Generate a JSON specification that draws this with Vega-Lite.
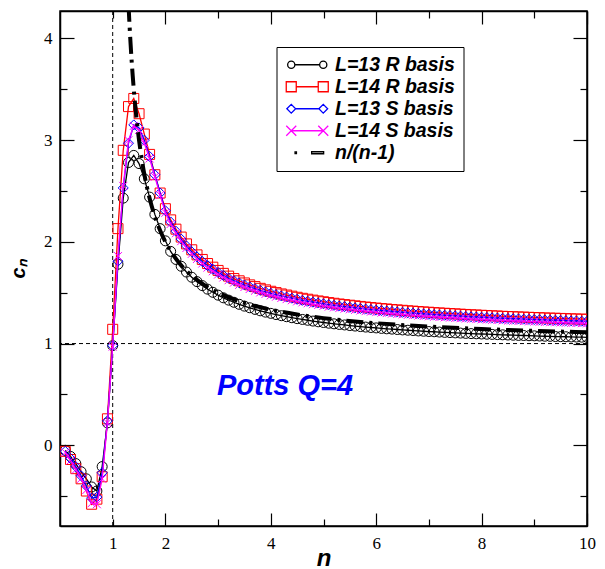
{
  "$schema": "https://vega.github.io/schema/vega-lite/v6.json",
  "width": 527,
  "height": 515,
  "autosize": {"type": "none"},
  "padding": {"left": 60, "top": 11, "right": 18, "bottom": 43},
  "config": {
    "view": {"stroke": "black", "strokeWidth": 1.5},
    "axis": {
      "grid": false,
      "domainColor": "black",
      "domainWidth": 1.5,
      "tickColor": "black",
      "tickWidth": 1.2,
      "labelFont": "Liberation Serif",
      "labelFontSize": 17,
      "labelColor": "black",
      "labelOverlap": false,
      "labelFlush": false,
      "titleFont": "Liberation Sans",
      "titleFontWeight": "bold",
      "titleFontStyle": "italic",
      "titleFontSize": 22,
      "titleColor": "black"
    }
  },
  "datasets": {
    "series": [
      {"n":0.1,"a":-0.05,"b":-0.06,"c":-0.06,"d":-0.07},
      {"n":0.2,"a":-0.11,"b":-0.14,"c":-0.13,"d":-0.15},
      {"n":0.3,"a":-0.18,"b":-0.23,"c":-0.21,"d":-0.24},
      {"n":0.4,"a":-0.26,"b":-0.33,"c":-0.30,"d":-0.33},
      {"n":0.5,"a":-0.33,"b":-0.45,"c":-0.40,"d":-0.44},
      {"n":0.6,"a":-0.41,"b":-0.58,"c":-0.52,"d":-0.57},
      {"n":0.7,"a":-0.45,"b":-0.53,"c":-0.51,"d":-0.58},
      {"n":0.8,"a":-0.21,"b":-0.31,"c":-0.27,"d":-0.33},
      {"n":0.9,"a":0.22,"b":0.26,"c":0.24,"d":0.22},
      {"n":1.0,"a":0.98,"b":1.14,"c":0.98,"d":0.97},
      {"n":1.1,"a":1.78,"b":2.13,"c":1.81,"d":1.86},
      {"n":1.2,"a":2.43,"b":2.90,"c":2.53,"d":2.55},
      {"n":1.3,"a":2.78,"b":3.33,"c":2.97,"d":3.00},
      {"n":1.4,"a":2.85,"b":3.41,"c":3.15,"d":3.14},
      {"n":1.5,"a":2.77,"b":3.26,"c":3.12,"d":3.10},
      {"n":1.6,"a":2.62,"b":3.06,"c":3.00,"d":2.97},
      {"n":1.7,"a":2.44,"b":2.86,"c":2.84,"d":2.82},
      {"n":1.8,"a":2.27,"b":2.66,"c":2.66,"d":2.64},
      {"n":1.9,"a":2.13,"b":2.48,"c":2.48,"d":2.46},
      {"n":2.0,"a":2.01,"b":2.326,"c":2.306,"d":2.286},
      {"n":2.1,"a":1.906,"b":2.216,"c":2.196,"d":2.176},
      {"n":2.2,"a":1.827,"b":2.125,"c":2.105,"d":2.085},
      {"n":2.3,"a":1.760,"b":2.047,"c":2.027,"d":2.007},
      {"n":2.4,"a":1.703,"b":1.980,"c":1.960,"d":1.940},
      {"n":2.5,"a":1.652,"b":1.922,"c":1.902,"d":1.882},
      {"n":2.6,"a":1.609,"b":1.872,"c":1.852,"d":1.832},
      {"n":2.7,"a":1.570,"b":1.827,"c":1.807,"d":1.787},
      {"n":2.8,"a":1.535,"b":1.787,"c":1.767,"d":1.747},
      {"n":2.9,"a":1.504,"b":1.751,"c":1.731,"d":1.711},
      {"n":3.0,"a":1.476,"b":1.719,"c":1.699,"d":1.679},
      {"n":3.1,"a":1.450,"b":1.690,"c":1.670,"d":1.650},
      {"n":3.2,"a":1.427,"b":1.663,"c":1.643,"d":1.623},
      {"n":3.3,"a":1.406,"b":1.639,"c":1.619,"d":1.599},
      {"n":3.4,"a":1.386,"b":1.617,"c":1.597,"d":1.577},
      {"n":3.5,"a":1.368,"b":1.596,"c":1.576,"d":1.556},
      {"n":3.6,"a":1.352,"b":1.577,"c":1.557,"d":1.537},
      {"n":3.7,"a":1.336,"b":1.560,"c":1.540,"d":1.520},
      {"n":3.8,"a":1.322,"b":1.543,"c":1.523,"d":1.503},
      {"n":3.9,"a":1.309,"b":1.528,"c":1.508,"d":1.488},
      {"n":4.0,"a":1.297,"b":1.514,"c":1.494,"d":1.474},
      {"n":4.1,"a":1.285,"b":1.501,"c":1.481,"d":1.461},
      {"n":4.2,"a":1.274,"b":1.488,"c":1.468,"d":1.448},
      {"n":4.3,"a":1.264,"b":1.477,"c":1.457,"d":1.437},
      {"n":4.4,"a":1.254,"b":1.466,"c":1.446,"d":1.426},
      {"n":4.5,"a":1.245,"b":1.455,"c":1.435,"d":1.415},
      {"n":4.6,"a":1.237,"b":1.445,"c":1.425,"d":1.405},
      {"n":4.7,"a":1.229,"b":1.436,"c":1.416,"d":1.396},
      {"n":4.8,"a":1.221,"b":1.427,"c":1.407,"d":1.387},
      {"n":4.9,"a":1.214,"b":1.419,"c":1.399,"d":1.379},
      {"n":5.0,"a":1.207,"b":1.411,"c":1.391,"d":1.371},
      {"n":5.1,"a":1.200,"b":1.403,"c":1.383,"d":1.363},
      {"n":5.2,"a":1.194,"b":1.396,"c":1.376,"d":1.356},
      {"n":5.3,"a":1.188,"b":1.389,"c":1.369,"d":1.349},
      {"n":5.4,"a":1.183,"b":1.383,"c":1.363,"d":1.343},
      {"n":5.5,"a":1.177,"b":1.377,"c":1.357,"d":1.337},
      {"n":5.6,"a":1.172,"b":1.371,"c":1.351,"d":1.331},
      {"n":5.7,"a":1.167,"b":1.365,"c":1.345,"d":1.325},
      {"n":5.8,"a":1.162,"b":1.359,"c":1.339,"d":1.319},
      {"n":5.9,"a":1.158,"b":1.354,"c":1.334,"d":1.314},
      {"n":6.0,"a":1.154,"b":1.349,"c":1.329,"d":1.309},
      {"n":6.1,"a":1.149,"b":1.344,"c":1.324,"d":1.304},
      {"n":6.2,"a":1.145,"b":1.340,"c":1.320,"d":1.300},
      {"n":6.3,"a":1.142,"b":1.335,"c":1.315,"d":1.295},
      {"n":6.4,"a":1.138,"b":1.331,"c":1.311,"d":1.291},
      {"n":6.5,"a":1.134,"b":1.327,"c":1.307,"d":1.287},
      {"n":6.6,"a":1.131,"b":1.322,"c":1.302,"d":1.282},
      {"n":6.7,"a":1.128,"b":1.319,"c":1.299,"d":1.279},
      {"n":6.8,"a":1.124,"b":1.315,"c":1.295,"d":1.275},
      {"n":6.9,"a":1.121,"b":1.311,"c":1.291,"d":1.271},
      {"n":7.0,"a":1.118,"b":1.308,"c":1.288,"d":1.268},
      {"n":7.1,"a":1.116,"b":1.304,"c":1.284,"d":1.264},
      {"n":7.2,"a":1.113,"b":1.301,"c":1.281,"d":1.261},
      {"n":7.3,"a":1.110,"b":1.298,"c":1.278,"d":1.258},
      {"n":7.4,"a":1.108,"b":1.295,"c":1.275,"d":1.255},
      {"n":7.5,"a":1.105,"b":1.292,"c":1.272,"d":1.252},
      {"n":7.6,"a":1.103,"b":1.289,"c":1.269,"d":1.249},
      {"n":7.7,"a":1.100,"b":1.286,"c":1.266,"d":1.246},
      {"n":7.8,"a":1.098,"b":1.283,"c":1.263,"d":1.243},
      {"n":7.9,"a":1.096,"b":1.281,"c":1.261,"d":1.241},
      {"n":8.0,"a":1.094,"b":1.278,"c":1.258,"d":1.238},
      {"n":8.1,"a":1.092,"b":1.276,"c":1.256,"d":1.236},
      {"n":8.2,"a":1.090,"b":1.273,"c":1.253,"d":1.233},
      {"n":8.3,"a":1.088,"b":1.271,"c":1.251,"d":1.231},
      {"n":8.4,"a":1.086,"b":1.268,"c":1.248,"d":1.228},
      {"n":8.5,"a":1.084,"b":1.266,"c":1.246,"d":1.226},
      {"n":8.6,"a":1.082,"b":1.264,"c":1.244,"d":1.224},
      {"n":8.7,"a":1.080,"b":1.262,"c":1.242,"d":1.222},
      {"n":8.8,"a":1.079,"b":1.260,"c":1.240,"d":1.220},
      {"n":8.9,"a":1.077,"b":1.258,"c":1.238,"d":1.218},
      {"n":9.0,"a":1.076,"b":1.256,"c":1.236,"d":1.216},
      {"n":9.1,"a":1.074,"b":1.254,"c":1.234,"d":1.214},
      {"n":9.2,"a":1.072,"b":1.252,"c":1.232,"d":1.212},
      {"n":9.3,"a":1.071,"b":1.250,"c":1.230,"d":1.210},
      {"n":9.4,"a":1.069,"b":1.249,"c":1.229,"d":1.209},
      {"n":9.5,"a":1.068,"b":1.247,"c":1.227,"d":1.207},
      {"n":9.6,"a":1.067,"b":1.245,"c":1.225,"d":1.205},
      {"n":9.7,"a":1.065,"b":1.243,"c":1.223,"d":1.203},
      {"n":9.8,"a":1.064,"b":1.242,"c":1.222,"d":1.202},
      {"n":9.9,"a":1.063,"b":1.240,"c":1.220,"d":1.200},
      {"n":10.0,"a":1.061,"b":1.239,"c":1.219,"d":1.199}
    ],
    "curve": [
      {"n":1.30,"c":4.333},{"n":1.32,"c":4.125},{"n":1.34,"c":3.941},{"n":1.36,"c":3.778},
      {"n":1.38,"c":3.632},{"n":1.40,"c":3.500},{"n":1.43,"c":3.326},{"n":1.46,"c":3.174},
      {"n":1.50,"c":3.000},{"n":1.55,"c":2.818},{"n":1.60,"c":2.667},{"n":1.65,"c":2.538},
      {"n":1.70,"c":2.429},{"n":1.80,"c":2.250},{"n":1.90,"c":2.111},{"n":2.00,"c":2.000},
      {"n":2.15,"c":1.870},{"n":2.30,"c":1.769},{"n":2.50,"c":1.667},{"n":2.75,"c":1.571},
      {"n":3.00,"c":1.500},{"n":3.50,"c":1.400},{"n":4.00,"c":1.333},{"n":4.50,"c":1.286},
      {"n":5.00,"c":1.250},{"n":6.00,"c":1.200},{"n":7.00,"c":1.167},{"n":8.00,"c":1.143},
      {"n":9.00,"c":1.125},{"n":10.00,"c":1.111}
    ]
  },
  "layer": [
    {
      "data": {"values": [{}]},
      "mark": {"type": "rule", "strokeDash": [4, 3], "strokeWidth": 1, "color": "black"},
      "encoding": {
        "x": {"datum": 1, "type": "quantitative", "scale": {"domain": [0, 10], "nice": false, "zero": false},
          "axis": {
            "orient": "bottom",
            "values": [1, 2, 3, 4, 5, 6, 7, 8, 9, 10],
            "labelExpr": "(datum.value % 2 === 0 || datum.value === 1) ? ('' + datum.value) : ''",
            "tickSize": {"condition": {"test": "datum.value % 2 === 0", "value": -13}, "value": -7},
            "labelPadding": {"condition": {"test": "datum.value % 2 === 0", "value": 22}, "value": 16},
            "title": "n",
            "titleFontSize": 24,
            "titlePadding": -5
          }
        }
      }
    },
    {
      "data": {"values": [{}]},
      "mark": {"type": "rule", "strokeDash": [4, 3], "strokeWidth": 1, "color": "black"},
      "encoding": {
        "y": {"datum": 1, "type": "quantitative", "scale": {"domain": [-0.794, 4.27], "nice": false, "zero": false},
          "axis": {
            "orient": "left",
            "values": [-0.5, 0, 0.5, 1, 1.5, 2, 2.5, 3, 3.5, 4],
            "labelExpr": "(datum.value % 1 === 0) ? ('' + datum.value) : ''",
            "tickSize": {"condition": {"test": "datum.value % 1 === 0", "value": -14}, "value": -7},
            "labelPadding": {"condition": {"test": "datum.value % 1 === 0", "value": 22}, "value": 15},
            "title": "cₙ",
            "titleFontSize": 20,
            "titlePadding": 15
          }
        }
      }
    },
    {
      "data": {"name": "series"},
      "mark": {"type": "line", "strokeWidth": 1.3, "color": "#000000", "clip": true},
      "encoding": {
        "x": {"field": "n", "type": "quantitative", "scale": {"domain": [0, 10], "nice": false, "zero": false}, "axis": null},
        "y": {"field": "a", "type": "quantitative", "scale": {"domain": [-0.794, 4.27], "nice": false, "zero": false}, "axis": null}
      }
    },
    {
      "data": {"name": "series"},
      "mark": {"type": "point", "shape": "circle", "filled": false, "size": 100, "strokeWidth": 1, "color": "#000000", "opacity": 1, "clip": true},
      "encoding": {
        "x": {"field": "n", "type": "quantitative", "scale": {"domain": [0, 10], "nice": false, "zero": false}, "axis": null},
        "y": {"field": "a", "type": "quantitative", "scale": {"domain": [-0.794, 4.27], "nice": false, "zero": false}, "axis": null}
      }
    },
    {
      "data": {"name": "series"},
      "mark": {"type": "line", "strokeWidth": 1.3, "color": "#ff0000", "clip": true},
      "encoding": {
        "x": {"field": "n", "type": "quantitative", "scale": {"domain": [0, 10], "nice": false, "zero": false}, "axis": null},
        "y": {"field": "b", "type": "quantitative", "scale": {"domain": [-0.794, 4.27], "nice": false, "zero": false}, "axis": null}
      }
    },
    {
      "data": {"name": "series"},
      "mark": {"type": "point", "shape": "square", "filled": false, "size": 100, "strokeWidth": 1, "color": "#ff0000", "opacity": 1, "clip": true},
      "encoding": {
        "x": {"field": "n", "type": "quantitative", "scale": {"domain": [0, 10], "nice": false, "zero": false}, "axis": null},
        "y": {"field": "b", "type": "quantitative", "scale": {"domain": [-0.794, 4.27], "nice": false, "zero": false}, "axis": null}
      }
    },
    {
      "data": {"name": "series"},
      "mark": {"type": "line", "strokeWidth": 1.3, "color": "#0000ff", "clip": true},
      "encoding": {
        "x": {"field": "n", "type": "quantitative", "scale": {"domain": [0, 10], "nice": false, "zero": false}, "axis": null},
        "y": {"field": "c", "type": "quantitative", "scale": {"domain": [-0.794, 4.27], "nice": false, "zero": false}, "axis": null}
      }
    },
    {
      "data": {"name": "series"},
      "mark": {"type": "point", "shape": "diamond", "filled": false, "size": 100, "strokeWidth": 1, "color": "#0000ff", "opacity": 1, "clip": true},
      "encoding": {
        "x": {"field": "n", "type": "quantitative", "scale": {"domain": [0, 10], "nice": false, "zero": false}, "axis": null},
        "y": {"field": "c", "type": "quantitative", "scale": {"domain": [-0.794, 4.27], "nice": false, "zero": false}, "axis": null}
      }
    },
    {
      "data": {"name": "series"},
      "mark": {"type": "line", "strokeWidth": 1.3, "color": "#ff00ff", "clip": true},
      "encoding": {
        "x": {"field": "n", "type": "quantitative", "scale": {"domain": [0, 10], "nice": false, "zero": false}, "axis": null},
        "y": {"field": "d", "type": "quantitative", "scale": {"domain": [-0.794, 4.27], "nice": false, "zero": false}, "axis": null}
      }
    },
    {
      "data": {"name": "series"},
      "mark": {"type": "point", "shape": "M-0.8,-0.8L0.8,0.8M-0.8,0.8L0.8,-0.8", "filled": false, "size": 100, "strokeWidth": 1, "color": "#ff00ff", "opacity": 1, "clip": true},
      "encoding": {
        "x": {"field": "n", "type": "quantitative", "scale": {"domain": [0, 10], "nice": false, "zero": false}, "axis": null},
        "y": {"field": "d", "type": "quantitative", "scale": {"domain": [-0.794, 4.27], "nice": false, "zero": false}, "axis": null}
      }
    },
    {
      "data": {"name": "curve"},
      "mark": {"type": "line", "color": "black", "strokeWidth": 4, "strokeDash": [17, 6, 3, 6], "interpolate": "monotone", "clip": true},
      "encoding": {
        "x": {"field": "n", "type": "quantitative", "scale": {"domain": [0, 10], "nice": false, "zero": false}, "axis": null},
        "y": {"field": "c", "type": "quantitative", "scale": {"domain": [-0.794, 4.27], "nice": false, "zero": false}, "axis": null}
      }
    },
    {
      "data": {"values": [{"label": "Potts Q=4"}]},
      "mark": {"type": "text", "font": "Liberation Sans", "fontWeight": "bold", "fontStyle": "italic", "fontSize": 29, "color": "#0000ff", "align": "center", "baseline": "middle"},
      "encoding": {
        "x": {"datum": 4.27, "type": "quantitative", "scale": {"domain": [0, 10], "nice": false, "zero": false}, "axis": null},
        "y": {"datum": 0.58, "type": "quantitative", "scale": {"domain": [-0.794, 4.27], "nice": false, "zero": false}, "axis": null},
        "text": {"field": "label"}
      }
    },
    {
      "data": {"values": [
        {"s": "L=13 R basis"}, {"s": "L=14 R basis"}, {"s": "L=13 S basis"}, {"s": "L=14 S basis"}, {"s": "n/(n-1)"}
      ]},
      "mark": {"type": "point", "filled": false, "opacity": 0},
      "encoding": {
        "color": {
          "field": "s", "type": "nominal",
          "scale": {"domain": ["L=13 R basis", "L=14 R basis", "L=13 S basis", "L=14 S basis", "n/(n-1)"], "range": ["#000000", "#ff0000", "#0000ff", "#ff00ff", "#000000"]},
          "legend": {
            "title": null,
            "orient": "none",
            "legendX": 216.5,
            "legendY": 36,
            "strokeColor": "black",
            "fillColor": "white",
            "padding": 8,
            "labelFont": "Liberation Sans",
            "labelFontSize": 19.5,
            "labelFontWeight": "bold",
            "labelFontStyle": "italic",
            "labelColor": "black",
            "labelLimit": 300,
            "symbolSize": 64,
            "symbolStrokeWidth": 1.3,
            "symbolOpacity": 1,
            "labelOffset": 31,
            "rowPadding": 1
          }
        },
        "shape": {
          "field": "s", "type": "nominal",
          "scale": {"domain": ["L=13 R basis", "L=14 R basis", "L=13 S basis", "L=14 S basis", "n/(n-1)"],
            "range": [
              "M-1.65,0A0.9,0.9 0 1,1 0.15,0A0.9,0.9 0 1,1 -1.65,0M0.15,0L6.35,0M6.35,0A0.9,0.9 0 1,1 8.15,0A0.9,0.9 0 1,1 6.35,0",
              "M-2,-1.25H0.5V1.25H-2ZM0.5,0H6M6,-1.25H8.5V1.25H6Z",
              "M-1.85,0L-0.75,-1.1L0.35,0L-0.75,1.1ZM0.35,0H6.15M6.15,0L7.25,-1.1L8.35,0L7.25,1.1Z",
              "M-2,-1.25L0.5,1.25M-2,1.25L0.5,-1.25M-0.75,0H7.25M6,-1.25L8.5,1.25M6,1.25L8.5,-1.25",
              "M0.2,-0.2H0.55V0.2H0.2ZM4.35,-0.25H7.35V0.25H4.35Z"
            ]}
        }
      }
    },
    {
      "data": {"name": "curve"},
      "mark": {"type": "point", "opacity": 0},
      "encoding": {
        "x": {"field": "n", "type": "quantitative", "scale": {"domain": [0, 10], "nice": false, "zero": false},
          "axis": {
            "orient": "top",
            "values": [1, 2, 3, 4, 5, 6, 7, 8, 9, 10],
            "labels": false,
            "title": null,
            "tickSize": {"condition": {"test": "datum.value % 2 === 0", "value": -13}, "value": -7}
          }
        },
        "y": {"field": "c", "type": "quantitative", "scale": {"domain": [-0.794, 4.27], "nice": false, "zero": false},
          "axis": {
            "orient": "right",
            "values": [-0.5, 0, 0.5, 1, 1.5, 2, 2.5, 3, 3.5, 4],
            "labels": false,
            "title": null,
            "tickSize": {"condition": {"test": "datum.value % 1 === 0", "value": -14}, "value": -7}
          }
        }
      }
    }
  ],
  "resolve": {"axis": {"x": "independent", "y": "independent"}}
}
